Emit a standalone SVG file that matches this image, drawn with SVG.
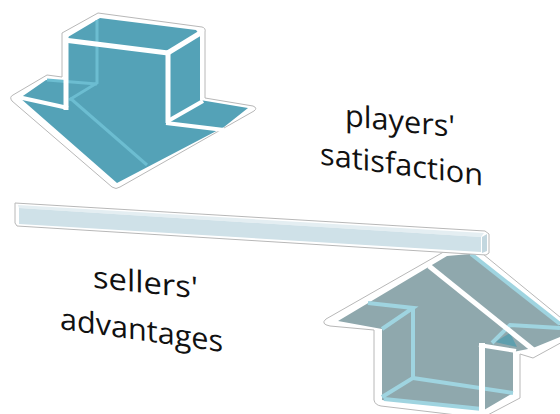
<svg xmlns="http://www.w3.org/2000/svg" width="560" height="414" viewBox="0 0 560 414">
  <defs>
    <style>
      .outline { fill: #ffffff; stroke: #b8b8b8; stroke-width: 1; stroke-linejoin: round; }
      .wline { fill: none; stroke: #ffffff; stroke-linecap: butt; stroke-linejoin: miter; }
      .downfill { fill: #54a2b7; }
      .downback { fill: none; stroke: #6cbdd1; stroke-width: 3; }
      .upfill { fill: #8fa8ad; }
      .upback { fill: none; stroke: #9fd4e0; stroke-width: 4; stroke-linejoin: miter; }
      .label { font-family: "Open Sans", "Noto Sans", "Liberation Sans", sans-serif; font-size: 30px; fill: #111111; text-anchor: middle; }
    </style>
  </defs>
  <rect x="0" y="0" width="560" height="414" fill="#ffffff"/>

  <g id="down-arrow">
    <path class="outline" d="M62,77 L62,33 L98,13 L202,27 Q206,28 205,32 L205,98 L253,106 Q258,108 254,111 L120,187 Q116,190 112,187 L12,101 Q9,97 13,95 L47,75 Z"/>
    <polygon class="downfill" points="68,37 100,18 196,30 200,35 200,100 248,108 224,127 117,183 20,98 46,80 63,82 68,83"/>
    <polyline class="downback" points="97,20 97,83 69,100"/>
    <line class="downback" x1="47" y1="80" x2="97" y2="84"/>
    <line class="downback" x1="70" y1="98" x2="147" y2="165"/>
    <line class="wline" stroke-width="5" x1="64" y1="40" x2="168" y2="53"/>
    <line class="wline" stroke-width="5" x1="166" y1="54" x2="202" y2="32"/>
    <line class="wline" stroke-width="5" x1="168" y1="51" x2="168" y2="123"/>
    <line class="wline" stroke-width="4" x1="168" y1="121" x2="203" y2="101"/>
    <line class="wline" stroke-width="4" x1="166" y1="123" x2="224" y2="130"/>
    <line class="wline" stroke-width="5" x1="66" y1="36" x2="66" y2="110"/>
    <line class="wline" stroke-width="4" x1="18" y1="97" x2="68" y2="108"/>
  </g>

  <g id="up-arrow">
    <path class="outline" d="M447,250 L326,319 Q320,324 330,326 L374,330 L374,400 Q375,405 381,406 L482,418 L520,398 L520,354 L533,358 L566,340 L566,322 L478,250 Z"/>
    <polygon class="upfill" points="338,321 447,256 470,254 560,325 560,337 533,348 513,352 513,393 484,410 382,400 382,329"/>
    <polygon fill="#5e9fae" points="495,342 510,333 517,347"/>
    <polyline class="upback" points="368,303 413,308 382,329"/>
    <polyline class="upback" points="413,308 413,378 382,397"/>
    <line class="upback" x1="413" y1="378" x2="513" y2="393"/>
    <line class="upback" x1="384" y1="399" x2="482" y2="409"/>
    <polyline class="upback" points="492,343 510,325 560,328"/>
    <line class="upback" stroke-width="2" x1="471" y1="254" x2="560" y2="324"/>
    <line class="wline" stroke-width="5" x1="429" y1="266" x2="536" y2="352"/>
    <line class="wline" stroke-width="6" x1="482" y1="343" x2="482" y2="416"/>
    <line class="wline" stroke-width="4" x1="479" y1="345" x2="516" y2="351"/>
  </g>

  <g id="beam">
    <polygon class="outline" points="15,203 485,231 489,234 489,253 486,255 17,226 15,223"/>
    <polygon fill="#e4eef2" points="18,205 484,233 481,237 19,208"/>
    <polygon fill="#cfe1e8" points="19,208 481,237 481,252 19,224"/>
    <polygon fill="#c3d7df" points="482,237 487,234 487,251 482,253"/>
  </g>

  <g id="label-players">
    <text class="label" transform="translate(400,131.5) skewY(6)" x="0" y="0" textLength="110" lengthAdjust="spacingAndGlyphs">players'</text>
    <text class="label" transform="translate(401.5,175) skewY(7.5)" x="0" y="0" textLength="163" lengthAdjust="spacingAndGlyphs">satisfaction</text>
  </g>

  <g id="label-sellers">
    <text class="label" transform="translate(145.5,293) skewY(6)" x="0" y="0" textLength="105" lengthAdjust="spacingAndGlyphs">sellers'</text>
    <text class="label" transform="translate(141.5,340.5) skewY(8)" x="0" y="0" textLength="163" lengthAdjust="spacingAndGlyphs">advantages</text>
  </g>
</svg>
